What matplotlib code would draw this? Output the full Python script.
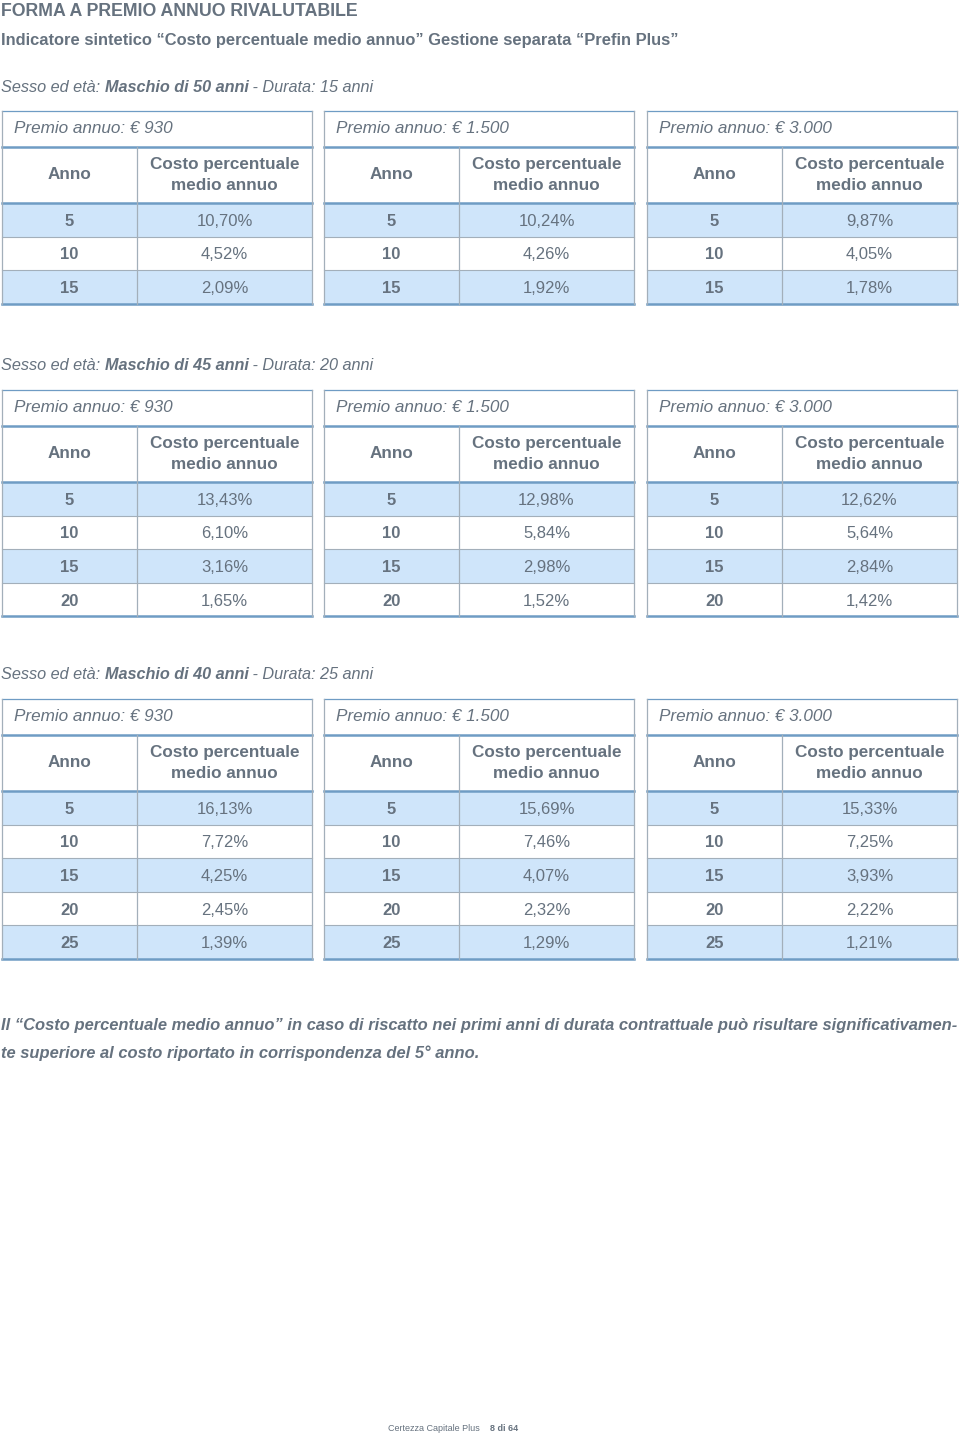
import matplotlib.pyplot as plt
from matplotlib.patches import Rectangle

TITLE = "FORMA A PREMIO ANNUO RIVALUTABILE"
SUBTITLE = "Indicatore sintetico \u201cCosto percentuale medio annuo\u201d Gestione separata \u201cPrefin Plus\u201d"

premi = ["930", "1.500", "3.000"]

ages = [50, 45, 40]
durations = [15, 20, 25]

years_1 = [5, 10, 15]
costs_1 = [["10,70%", "4,52%", "2,09%"],
           ["10,24%", "4,26%", "1,92%"],
           ["9,87%", "4,05%", "1,78%"]]

years_2 = [5, 10, 15, 20]
costs_2 = [["13,43%", "6,10%", "3,16%", "1,65%"],
           ["12,98%", "5,84%", "2,98%", "1,52%"],
           ["12,62%", "5,64%", "2,84%", "1,42%"]]

years_3 = [5, 10, 15, 20, 25]
costs_3 = [["16,13%", "7,72%", "4,25%", "2,45%", "1,39%"],
           ["15,69%", "7,46%", "4,07%", "2,32%", "1,29%"],
           ["15,33%", "7,25%", "3,93%", "2,22%", "1,21%"]]

NOTE_1 = ("Il \u201cCosto percentuale medio annuo\u201d in caso di riscatto nei primi anni "
          "di durata contrattuale pu\u00f2 risultare significativamen-")
NOTE_2 = "te superiore al costo riportato in corrispondenza del 5\u00b0 anno."

TXT = "#66727f"
BLUE_FILL = "#cfe5fa"
BLUE_LINE = "#6f9cc4"
GREY_LINE = "#a3afba"
FONT = ["Liberation Sans", "DejaVu Sans"]

fig = plt.figure(figsize=(9.6, 14.36), dpi=100)
ax = fig.add_axes([0, 0, 1, 1])
ax.set_xlim(0, 960)
ax.set_ylim(1436, 0)
ax.axis("off")
renderer = fig.canvas.get_renderer()


def put(x, y, s, size, weight="normal", style="normal", ha="left", **kw):
    """text placed by its visual middle: baseline pushed down by half a cap height"""
    return ax.text(x, y + size * 100 / 72 * 0.36, s, fontsize=size, fontweight=weight,
                   fontstyle=style, family=FONT, color=TXT, ha=ha, va="baseline", **kw)


def run_text(x, y, parts, size):
    """draw pieces of text one after the other on the same baseline"""
    for s, weight, style in parts:
        t = put(x, y, s, size, weight, style)
        x += t.get_window_extent(renderer).width


def fit_text(x, y, s, size, width, **kw):
    t = put(x, y, s, size, **kw)
    w = t.get_window_extent(renderer).width
    if w > width:
        t.set_fontsize(size * width / w)
    return t


def draw_table(x0, y0, premio, years, costs):
    w, split = 310, 135
    h_premio, h_head, h_row = 36, 56, 33.6
    y_head = y0 + h_premio
    y_data = y_head + h_head
    y_end = y_data + h_row * len(years)
    xc1 = x0 + split / 2
    xc2 = x0 + split + (w - split) / 2
    for i, (yr, c) in enumerate(zip(years, costs)):
        top = y_data + i * h_row
        if i % 2 == 0:
            ax.add_patch(Rectangle((x0, top), w, h_row, facecolor=BLUE_FILL, edgecolor="none"))
        if i > 0:
            ax.plot([x0, x0 + w], [top, top], color=GREY_LINE, lw=0.8)
        put(xc1, top + h_row / 2, str(yr), 12, weight="bold", ha="center")
        put(xc2, top + h_row / 2, c, 12, ha="center")
    # frame
    ax.plot([x0, x0 + w], [y0, y0], color=BLUE_LINE, lw=0.9)
    for yy in (y_head, y_data, y_end):
        ax.plot([x0, x0 + w], [yy, yy], color=BLUE_LINE, lw=1.8)
    ax.plot([x0, x0], [y0, y_end], color=GREY_LINE, lw=0.9)
    ax.plot([x0 + w, x0 + w], [y0, y_end], color=GREY_LINE, lw=0.9)
    ax.plot([x0 + split, x0 + split], [y_head, y_end], color=GREY_LINE, lw=0.9)
    put(x0 + 12, y0 + h_premio / 2 - 2.5, "Premio annuo: \u20ac " + premio, 12.3, style="italic")
    put(xc1, y_head + h_head / 2 - 2, "Anno", 12.3, weight="bold", ha="center")
    put(xc2, y_head + h_head / 2 - 12, "Costo percentuale", 12.3, weight="bold", ha="center")
    put(xc2, y_head + h_head / 2 + 9, "medio annuo", 12.3, weight="bold", ha="center")


put(1, 10, TITLE, 12.8, weight="bold")
put(1, 39, SUBTITLE, 11.9, weight="bold")

sections = [(86, 111, years_1, costs_1), (364, 390, years_2, costs_2), (673, 699, years_3, costs_3)]
table_x = [2, 324, 647]
for k, (y_lab, y_tab, years, costs) in enumerate(sections):
    run_text(1, y_lab, [("Sesso ed et\u00e0: ", "normal", "italic"),
                        (f"Maschio di {ages[k]} anni", "bold", "italic"),
                        (f" - Durata: {durations[k]} anni", "normal", "italic")], 11.7)
    for j in range(3):
        draw_table(table_x[j], y_tab, premi[j], years, costs[j])

fit_text(1, 1024, NOTE_1, 12.2, 956, weight="bold", style="italic")
put(1, 1052, NOTE_2, 11.9, weight="bold", style="italic")

run_text(388, 1428, [("Certezza Capitale Plus    ", "normal", "normal"),
                     ("8 di 64", "bold", "normal")], 6.5)

fig.savefig("out.png", dpi=100)
